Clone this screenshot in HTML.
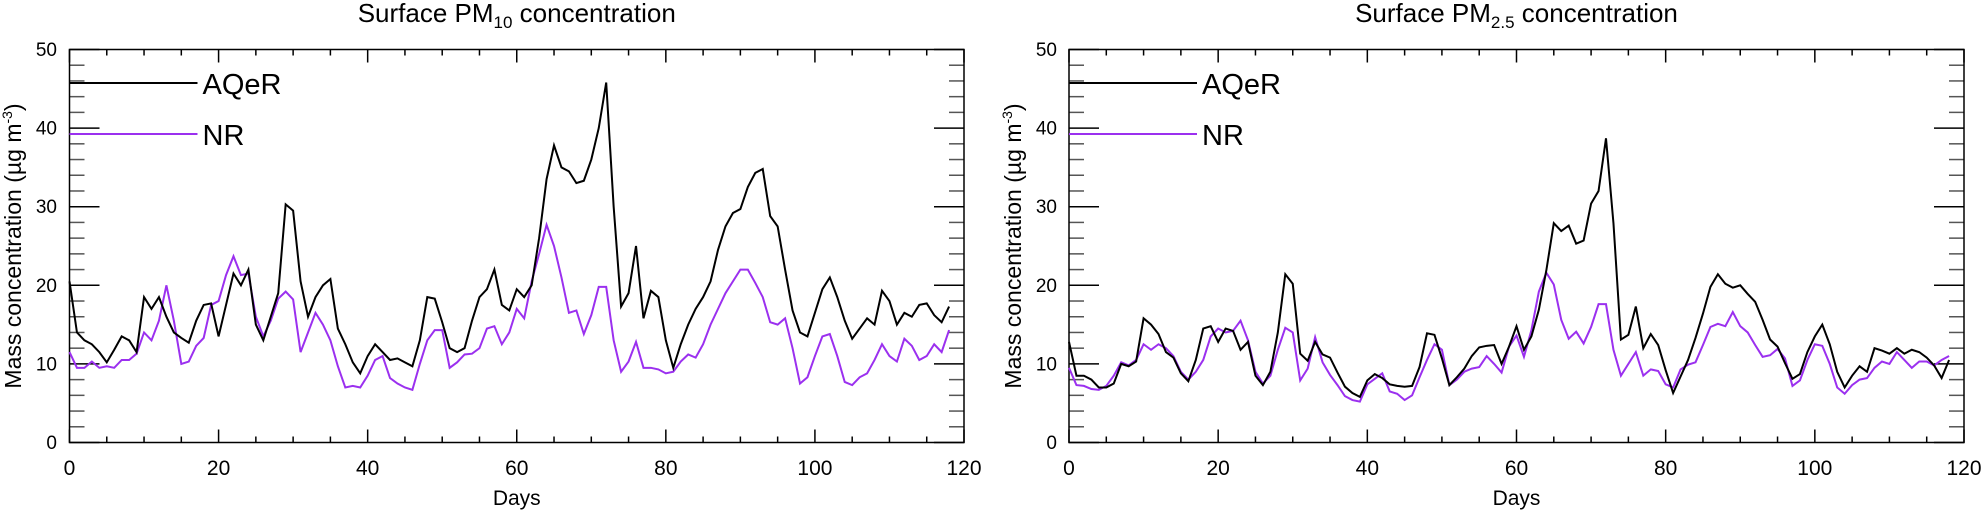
<!DOCTYPE html>
<html><head><meta charset="utf-8"><style>
html,body{margin:0;padding:0;background:#fff}
svg{display:block;font-family:"Liberation Sans",sans-serif}
</style></head><body>
<svg id="c" width="1982" height="512"></svg>
<script>
const days=[];for(let i=0;i<=118;i++)days.push(i);
const pm10Aqer=[20.5,14,13,12.5,11.5,10.2,11.8,13.5,13,11.5,18.5,17,18.5,16,14,13.3,12.7,15.5,17.5,17.7,13.5,17.5,21.5,20,22,15,13,16,19,30.3,29.5,20.5,16,18.5,20,20.8,14.5,12.5,10.2,8.8,11,12.5,11.5,10.5,10.7,10.2,9.7,13,18.5,18.3,15.3,12,11.5,12,15.5,18.5,19.5,22,17.5,16.8,19.5,18.5,20,26,33.5,37.8,35,34.5,33,33.3,36,40,45.8,30,17.3,19,25,15.8,19.3,18.5,13,9.5,12.5,15,17,18.5,20.5,24.5,27.5,29.2,29.7,32.5,34.3,34.8,28.8,27.5,22,16.8,14,13.5,16.5,19.5,21,18.5,15.5,13.2,14.5,15.8,15,19.3,18,15,16.5,16,17.5,17.7,16.2,15.3,17.3];
const pm10Nr=[11.5,9.5,9.5,10.3,9.5,9.7,9.5,10.5,10.5,11.3,14,13,15.5,20,15.5,10,10.3,12.3,13.3,17.5,18,21.3,23.7,21.3,21.5,16,13.5,15.5,18.3,19.2,18.2,11.5,14,16.5,15,13,9.7,7,7.2,7,8.5,10.5,11,8.2,7.5,7,6.7,10,13,14.3,14.3,9.5,10.2,11.2,11.3,12,14.5,14.8,12.5,14,17,15.8,20.5,24,27.7,25,21,16.5,16.8,13.8,16.2,19.8,19.8,13,9,10.3,12.8,9.5,9.5,9.3,8.8,9,10.3,11.2,10.8,12.5,15,17,19,20.5,22,22,20.3,18.5,15.3,15,15.8,12,7.5,8.3,11,13.5,13.8,11,7.7,7.3,8.3,8.8,10.5,12.5,11,10.3,13.2,12.3,10.5,11,12.5,11.5,14.3];
const pm25Aqer=[12.8,8.5,8.5,8,7,7,7.5,10,9.7,10.3,15.8,15,13.8,11.5,10.8,8.8,7.8,10.5,14.5,14.8,12.8,14.5,14.2,11.8,12.8,8.5,7.3,9,14,
21.4,20.2,11.3,10.4,12.8,11.2,10.8,8.9,7.1,6.3,5.8,7.9,8.7,8.2,7.4,7.2,7.1,7.2,9.6,13.9,13.7,10.7,7.3,8.3,9.4,11.0,12.1,12.3,12.4,10.0,12.2,14.8,
11.8,13.5,16.9,21.9,27.9,26.9,27.6,25.3,25.7,30.4,32.0,38.7,27.9,13.1,13.7,17.3,12.0,13.8,12.4,9.2,6.3,8.4,10.5,13.3,16.4,19.8,21.4,20.2,19.7,20.0,18.9,17.9,15.6,13.1,12.2,10.1,8.1,8.7,
11.5,13.5,15,12.5,9,7,8.5,9.7,9,12,11.7,11.3,12,11.3,11.8,11.5,10.8,9.8,8.2,10.5];
const pm25Nr=[9.5,7.3,7.2,6.8,6.7,7.2,8.5,10.2,9.8,10.5,12.5,11.8,12.5,12,11,9,8,9,10.5,13.5,14.5,14,14.2,15.5,13,9,7.5,8.5,11.8,
14.6,14.0,7.9,9.4,13.4,10.2,8.6,7.3,5.9,5.4,5.2,7.4,8.1,8.8,6.5,6.2,5.4,6.0,8.3,10.5,12.5,11.8,7.3,8.0,9.0,9.4,9.6,11.0,10.0,8.9,12.2,13.6,
10.9,14.3,19.2,21.6,20.1,15.6,13.2,14.1,12.6,14.7,17.6,17.6,11.8,8.5,10.0,11.5,8.5,9.3,9.1,7.4,7.0,9.3,9.9,10.2,12.4,14.7,15.1,14.8,16.6,14.8,14.0,12.4,10.9,11.1,11.9,10.7,7.2,7.9,
10.5,12.5,12.3,10,7,6.2,7.3,8,8.2,9.5,10.3,10,11.5,10.5,9.5,10.3,10.3,9.8,10.5,11];
const xTicks=[0,20,40,60,80,100,120];
const yTicks=[0,10,20,30,40,50];

const NS="http://www.w3.org/2000/svg";
const svg=document.getElementById('c');
function mk(tag,attrs,parent){const e=document.createElementNS(NS,tag);for(const k in attrs)e.setAttribute(k,attrs[k]);(parent||svg).appendChild(e);return e;}
const Y0=442.5,Y50=49.5;
function panel(x0,x1,titleSub,a,n,prefix,ylabX,ytickX){
  const g=mk('g',{});
  
  
  const sx=v=>x0+(x1-x0)*v/120, sy=v=>Y0+(Y50-Y0)*v/50;
  for(let v=0;v<=50;v+=2){const maj=v%10===0,L=maj?30:15;
    mk('line',{x1:x0,x2:x0+L,y1:sy(v),y2:sy(v),stroke:maj?'#000':'#555','stroke-width':1.5},g);
    mk('line',{x1:x1,x2:x1-L,y1:sy(v),y2:sy(v),stroke:maj?'#000':'#555','stroke-width':1.5},g);}
  for(let v=0;v<=120;v+=5){const maj=v%20===0,L=maj?13:6;
    mk('line',{x1:sx(v),x2:sx(v),y1:Y0,y2:Y0-L,stroke:'#000','stroke-width':1.5},g);
    mk('line',{x1:sx(v),x2:sx(v),y1:Y50,y2:Y50+L,stroke:'#000','stroke-width':1.5},g);}
  const fr=mk('rect',{x:x0,y:Y50,width:x1-x0,height:Y0-Y50,fill:'none',stroke:'#000','stroke-width':1.5},g);
  
  
  yTicks.forEach(v=>{const t=mk('text',{x:ytickX,y:sy(v)+6.5,'text-anchor':'end','font-size':19},g);t.textContent=v;
    
    });
  xTicks.forEach(v=>{const t=mk('text',{x:sx(v),y:475,'text-anchor':'middle','font-size':21},g);t.textContent=v;
    
    });
  const xt=mk('text',{x:(x0+x1)/2,y:505,'text-anchor':'middle','font-size':21},g);xt.textContent='Days';
  
  
  const yt=mk('text',{x:0,y:0,'text-anchor':'middle','font-size':23,transform:`translate(${ylabX},${(Y0+Y50)/2}) rotate(-90)`},g);
  yt.innerHTML='Mass concentration (µg m<tspan dy="-9" font-size="14">-3</tspan><tspan dy="9">)</tspan>';
  
  
  const tt=mk('text',{x:(x0+x1)/2,y:22,'text-anchor':'middle','font-size':26},g);
  tt.innerHTML='Surface PM<tspan dy="6" font-size="17">'+titleSub+'</tspan><tspan dy="-6"> concentration</tspan>';
  
  
  function line(vals,col,name){const p=mk('polyline',{points:vals.map((v,i)=>sx(days[i])+','+sy(v)).join(' '),fill:'none',stroke:col,'stroke-width':2,'stroke-linejoin':'miter'},g);
    
    }
  line(n,'#9b30ef',prefix+'-nr-line');
  line(a,'#000',prefix+'-aqer-line');
  const l1=mk('line',{x1:x0,x2:x0+128,y1:83,y2:83,stroke:'#000','stroke-width':2},g);
  
  
  const t1=mk('text',{x:x0+133,y:94,'font-size':29},g);t1.textContent='AQeR';
  
  
  const l2=mk('line',{x1:x0,x2:x0+128,y1:134,y2:134,stroke:'#9b30ef','stroke-width':2},g);
  
  
  const t2=mk('text',{x:x0+133,y:145,'font-size':29},g);t2.textContent='NR';
  
  
}
panel(69.5,964,'10',pm10Aqer,pm10Nr,'pm10',21,57);
panel(1069,1964,'2.5',pm25Aqer,pm25Nr,'pm25',1021,1057);
</script>
</body></html>
